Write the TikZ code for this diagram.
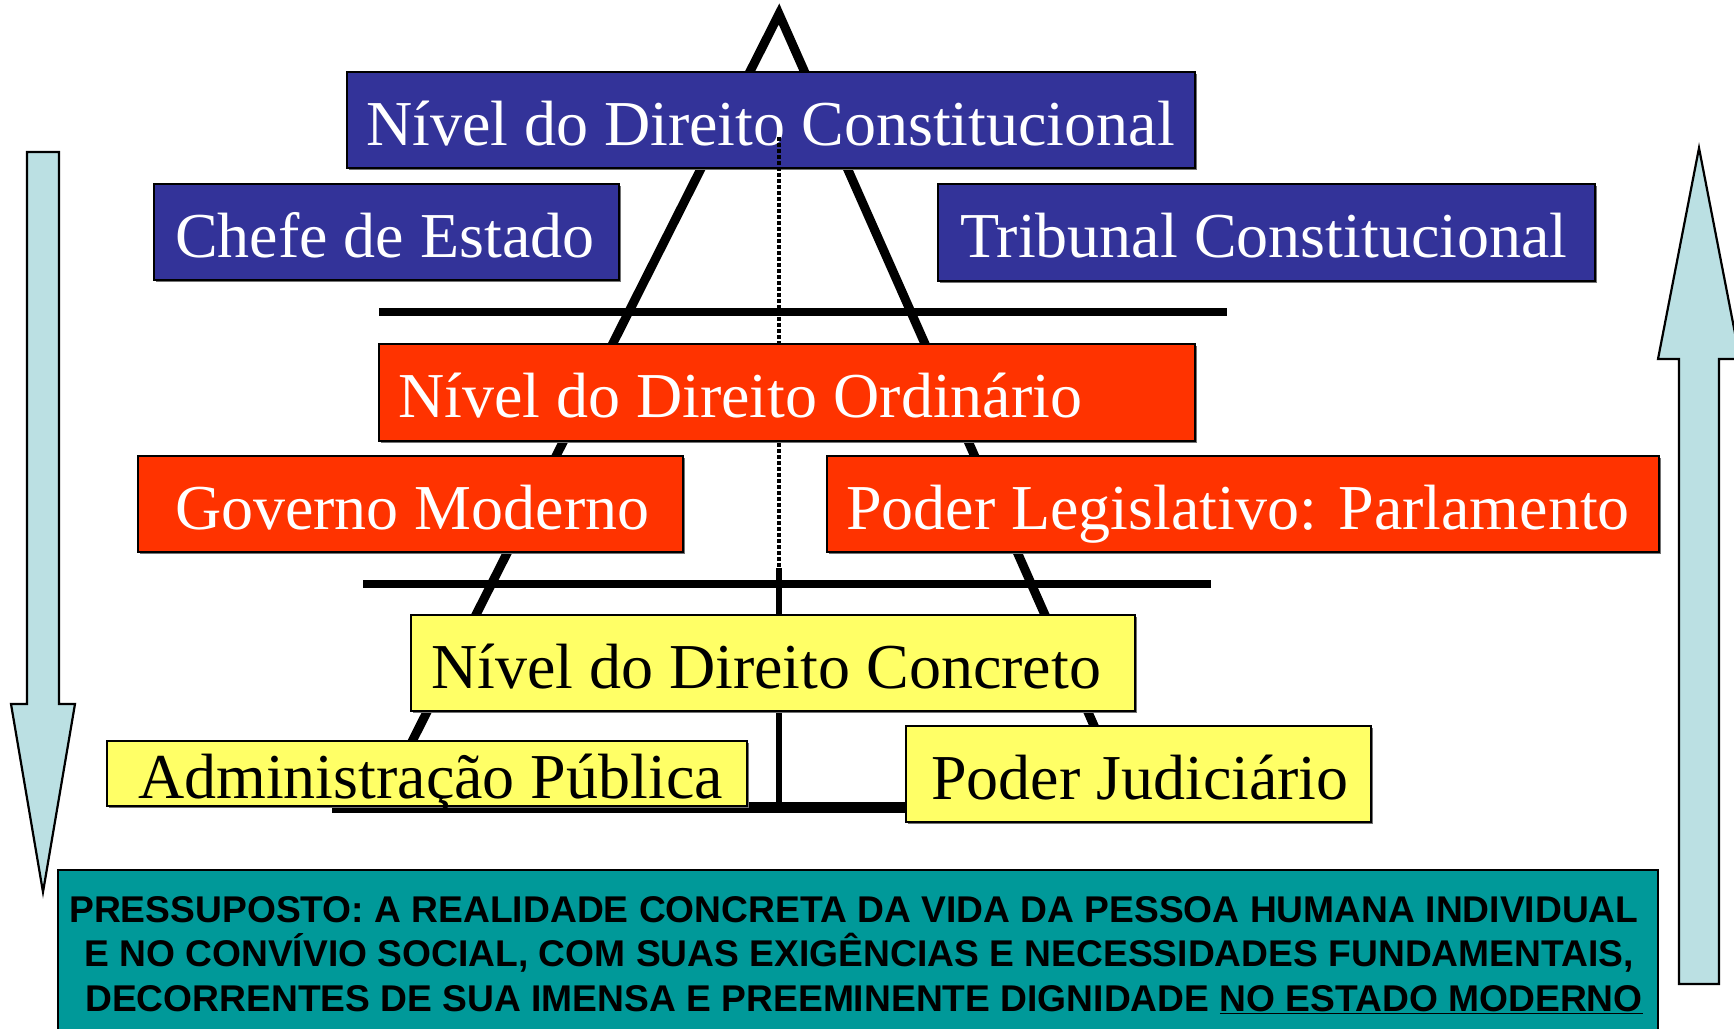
\documentclass[tikz,border=0pt]{standalone}
\usepackage{fontspec}
\setmainfont{Liberation Serif}
\newfontfamily\arialfont{Liberation Sans}
\usetikzlibrary{shadows}
\definecolor{boxblue}{RGB}{51,51,153}
\definecolor{boxred}{RGB}{255,51,0}
\definecolor{boxyellow}{RGB}{255,255,102}
\definecolor{boxteal}{RGB}{0,153,153}
\definecolor{arrowblue}{RGB}{187,224,227}
\newcommand\boxlabel[1]{\spaceskip=0pt\xspaceskip=0pt\mbox{#1}}
\begin{document}
\begin{tikzpicture}[x=1pt,y=-1pt,
  panel/.style={draw=black, line width=2.2pt, inner ysep=0pt, text height=55pt, text depth=5pt,
    align=left, font=\fontsize{64}{70}\selectfont,
    drop shadow={shadow xshift=2pt, shadow yshift=-2pt, fill=black!55, opacity=1}},
  bluepanel/.style={panel, fill=boxblue, text=white},
  redpanel/.style={panel, fill=boxred, text=white},
  yellowpanel/.style={panel, fill=boxyellow, text=black},
  pyr/.style={line width=9pt, line join=miter},
  bar/.style={line width=8pt},
  bigarrow/.style={fill=arrowblue, draw=black, line width=2.2pt, line join=miter}
]
\useasboundingbox (0,0) rectangle (1734,1028);
\clip (0,0) rectangle (1734,1028);

% pyramid frame
\coordinate (apex) at (779,14);
\coordinate (bl) at (379,807);
\coordinate (br) at (1130,807);
\coordinate (baseL) at (332,807);
\coordinate (baseR) at (1000,807);
\coordinate (l1a) at (379,312);
\coordinate (l1b) at (1227,312);
\coordinate (l2a) at (363,584);
\coordinate (l2b) at (1211,584);
\coordinate (dotTop) at (779,137);
\coordinate (dotBot) at (779,568);
\coordinate (solBot) at (779,805);

\draw[pyr] (bl) -- (apex) -- (br);
\draw[bar] (l1a) -- (l1b);
\draw[bar] (l2a) -- (l2b);
\draw[line width=11pt] (baseL) -- (baseR);
\draw[line width=6pt] (dotBot) -- (solBot);

% side arrows
\draw[bigarrow] (27,152) -- (59,152) -- (59,704) -- (75,704) -- (43,892) -- (11,704) -- (27,704) -- cycle;
\draw[bigarrow] (1679,984) -- (1719,984) -- (1719,359) -- (1740,359) -- (1699,148) -- (1658,359) -- (1679,359) -- cycle;

% constitutional level
\node[bluepanel, text width=810pt, inner xsep=19pt, minimum height=96pt] (cons) at (771,120) {\boxlabel{Nível do Direito Constitucional}};
\node[bluepanel, text width=423pt, inner xsep=21pt, minimum height=96pt] (chefe) at (386.5,232) {\boxlabel{Chefe de Estado}};
\node[bluepanel, text width=613pt, inner xsep=22pt, minimum height=97pt] (trib) at (1266.5,232.5) {\boxlabel{Tribunal Constitucional}};

\draw[line width=3.2pt, dash pattern=on 3.5pt off 2.5pt] (dotTop) -- (dotBot);

% ordinary level
\node[redpanel, text width=778pt, inner xsep=19pt, minimum height=97pt] (ord) at (787,392.5) {\boxlabel{Nível do Direito Ordinário}};
\node[redpanel, text width=471pt, inner xsep=37pt, minimum height=96pt] (gov) at (410.5,504) {\boxlabel{Governo Moderno}};
\node[redpanel, text width=794pt, inner xsep=19pt, minimum height=96pt] (leg) at (1243,504) {\boxlabel{Poder Legislativo: Parlamento}};

% concrete level
\node[yellowpanel, text width=684pt, inner xsep=20pt, minimum height=96pt] (conc) at (773,663) {\boxlabel{Nível do Direito Concreto}};
\node[yellowpanel, text width=578pt, inner xsep=31pt, minimum height=65pt] (adm) at (427,773.5) {\boxlabel{Administração Pública}};
\node[yellowpanel, text width=415pt, inner xsep=25pt, minimum height=96pt] (jud) at (1138.5,774) {\boxlabel{Poder Judiciário}};

% presupposition
\node[draw=black, line width=2.2pt, fill=boxteal, minimum width=1600pt, minimum height=180pt, inner sep=0pt] (press) at (858,960) {};
\node[anchor=base, align=center, inner sep=0pt, font=\arialfont\bfseries\fontsize{37.2}{44.5}\selectfont] (presstext) at (859,1011)
  {PRESSUPOSTO: A REALIDADE CONCRETA DA VIDA DA PESSOA HUMANA INDIVIDUAL\kern10pt\\
   E NO CONVÍVIO SOCIAL, COM SUAS EXIGÊNCIAS E NECESSIDADES FUNDAMENTAIS,\\
   \kern10pt DECORRENTES DE SUA IMENSA E PREEMINENTE DIGNIDADE \underline{NO ESTADO MODERNO}};
\end{tikzpicture}
\end{document}
